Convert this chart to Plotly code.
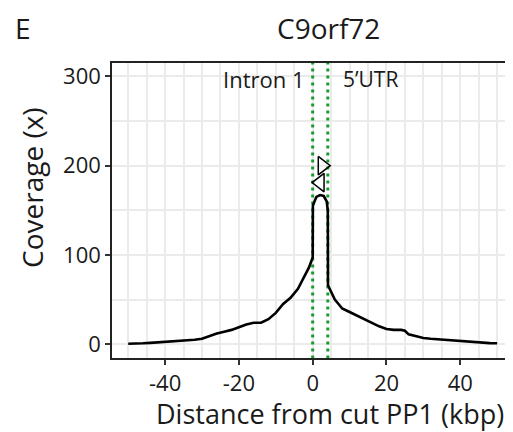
import plotly.graph_objects as go

# Coverage profile (kbp from cut, coverage x)
distance_kbp = [-50, -48, -46, -44, -42, -40, -38, -36, -34, -32, -30, -28, -26, -24, -22,
                -20, -18, -16, -14, -12, -10, -8, -6, -4, -3, -2, -1, 0, 0.05, 0.5, 1, 2, 3,
                3.8, 4.1, 4.15, 5, 6, 7, 8, 10, 12, 14, 16, 18, 20, 22, 24, 25, 26, 28, 30,
                32, 35, 38, 40, 42, 44, 46, 48, 50]
coverage = [0.5, 0.5, 1, 1.5, 2, 2.5, 3, 3.5, 4, 5, 6, 9, 12, 14, 16,
            19, 22, 24, 24, 28, 35, 45, 52, 62, 70, 78, 86, 97, 155, 160, 165, 167, 166,
            160, 150, 66, 58, 50, 45, 40, 36, 32, 28, 24, 20, 17, 16, 16, 15, 11, 9, 7,
            6, 5, 4, 3.5, 2.5, 2, 1.5, 1.2, 1]

# Region boundaries (kbp)
boundaries = [0, 4.1]
region_labels = ["Intron 1", "5\u2019UTR"]
region_label_x = [-1.5, 7.6]
region_label_y = 297

# Guide RNA markers
marker_x = [2.6, 2.0]
marker_y = [200, 181]
marker_symbols = ["triangle-right-open", "triangle-left-open"]

x_tickvals = [-40, -20, 0, 20, 40]
x_ticktext = ["-40", "-20", "0", "20", "40"]
y_tickvals = [0, 100, 200, 300]
y_ticktext = ["0", "100", "200", "300"]

FONT = "Open Sans"
TXT = "#1a1a1a"
OFF = 8  # page body margin in the browser
W, H = 513 - OFF, 432 - OFF
L, R, T, B = 112 - OFF, 0, 63 - OFF, 74


def px_x(p):
    return (p - OFF - L) / (W - L - R)


def px_y(p):
    return 1 + (T - (p - OFF)) / (H - T - B)


fig = go.Figure()

for b in boundaries:
    fig.add_trace(go.Scatter(x=[b, b], y=[-16, 316], mode="lines",
                             line=dict(color="#1a9a2e", width=3, dash="3px,4px"),
                             hoverinfo="skip", showlegend=False))

fig.add_trace(go.Scatter(x=distance_kbp, y=coverage, mode="lines",
                         line=dict(color="black", width=2.6), showlegend=False))

for mx, my, ms in zip(marker_x, marker_y, marker_symbols):
    fig.add_trace(go.Scatter(x=[mx], y=[my], mode="markers",
                             marker=dict(symbol=ms, size=16, color="black",
                                         line=dict(color="black", width=1.5)),
                             showlegend=False))

fig.add_annotation(x=region_label_x[0], y=region_label_y, text=region_labels[0],
                   showarrow=False, xanchor="right", yanchor="middle",
                   font=dict(family=FONT, size=22, color=TXT))
fig.add_annotation(x=region_label_x[1], y=region_label_y, text=region_labels[1],
                   showarrow=False, xanchor="left", yanchor="middle",
                   font=dict(family=FONT, size=21, color=TXT))

fig.add_annotation(x=px_x(328), y=px_y(28), xref="paper", yref="paper", text="C9orf72",
                   showarrow=False, xanchor="center", yanchor="middle",
                   font=dict(family=FONT, size=28, color=TXT))
fig.add_annotation(x=px_x(23), y=px_y(28), xref="paper", yref="paper", text="E",
                   showarrow=False, xanchor="center", yanchor="middle",
                   font=dict(family=FONT, size=28, color=TXT))
fig.add_annotation(x=px_x(330), y=px_y(413.5), xref="paper", yref="paper",
                   text="Distance from cut PP1 (kbp)", borderpad=0,
                   showarrow=False, xanchor="center", yanchor="middle",
                   font=dict(family=FONT, size=27, color=TXT))
fig.add_annotation(x=px_x(32), y=px_y(188), xref="paper", yref="paper",
                   text="Coverage (x)", textangle=-90,
                   showarrow=False, xanchor="center", yanchor="middle",
                   font=dict(family=FONT, size=28, color=TXT))

grid = "#ebebeb"
fig.update_layout(
    width=W, height=H,
    margin=dict(l=L, r=R, t=T, b=B),
    plot_bgcolor="white", paper_bgcolor="white",
    font=dict(family=FONT, color=TXT),
    xaxis=dict(range=[-54.4, 54.3], tickvals=x_tickvals, ticktext=x_ticktext,
               ticks="outside", ticklen=5, automargin=False,
               tickwidth=1.5, tickcolor="#333", showline=True, linecolor="#222",
               linewidth=1.5, mirror=True, showgrid=True, gridcolor=grid, gridwidth=1.5,
               zeroline=False, tickfont=dict(size=22, color=TXT),
               minor=dict(dtick=5, tick0=0, showgrid=True, gridcolor=grid, gridwidth=1.5)),
    yaxis=dict(range=[-15.5, 315], tickvals=y_tickvals, ticktext=y_ticktext,
               ticks="outside", ticklen=5, automargin=False,
               tickwidth=1.5, tickcolor="#333", showline=True, linecolor="#222",
               linewidth=1.5, mirror=False, showgrid=True, gridcolor=grid, gridwidth=1.5,
               zeroline=False, tickfont=dict(size=22, color=TXT),
               minor=dict(dtick=50, tick0=0, showgrid=True, gridcolor=grid, gridwidth=1.5)),
)

fig.write_html("out.html")
